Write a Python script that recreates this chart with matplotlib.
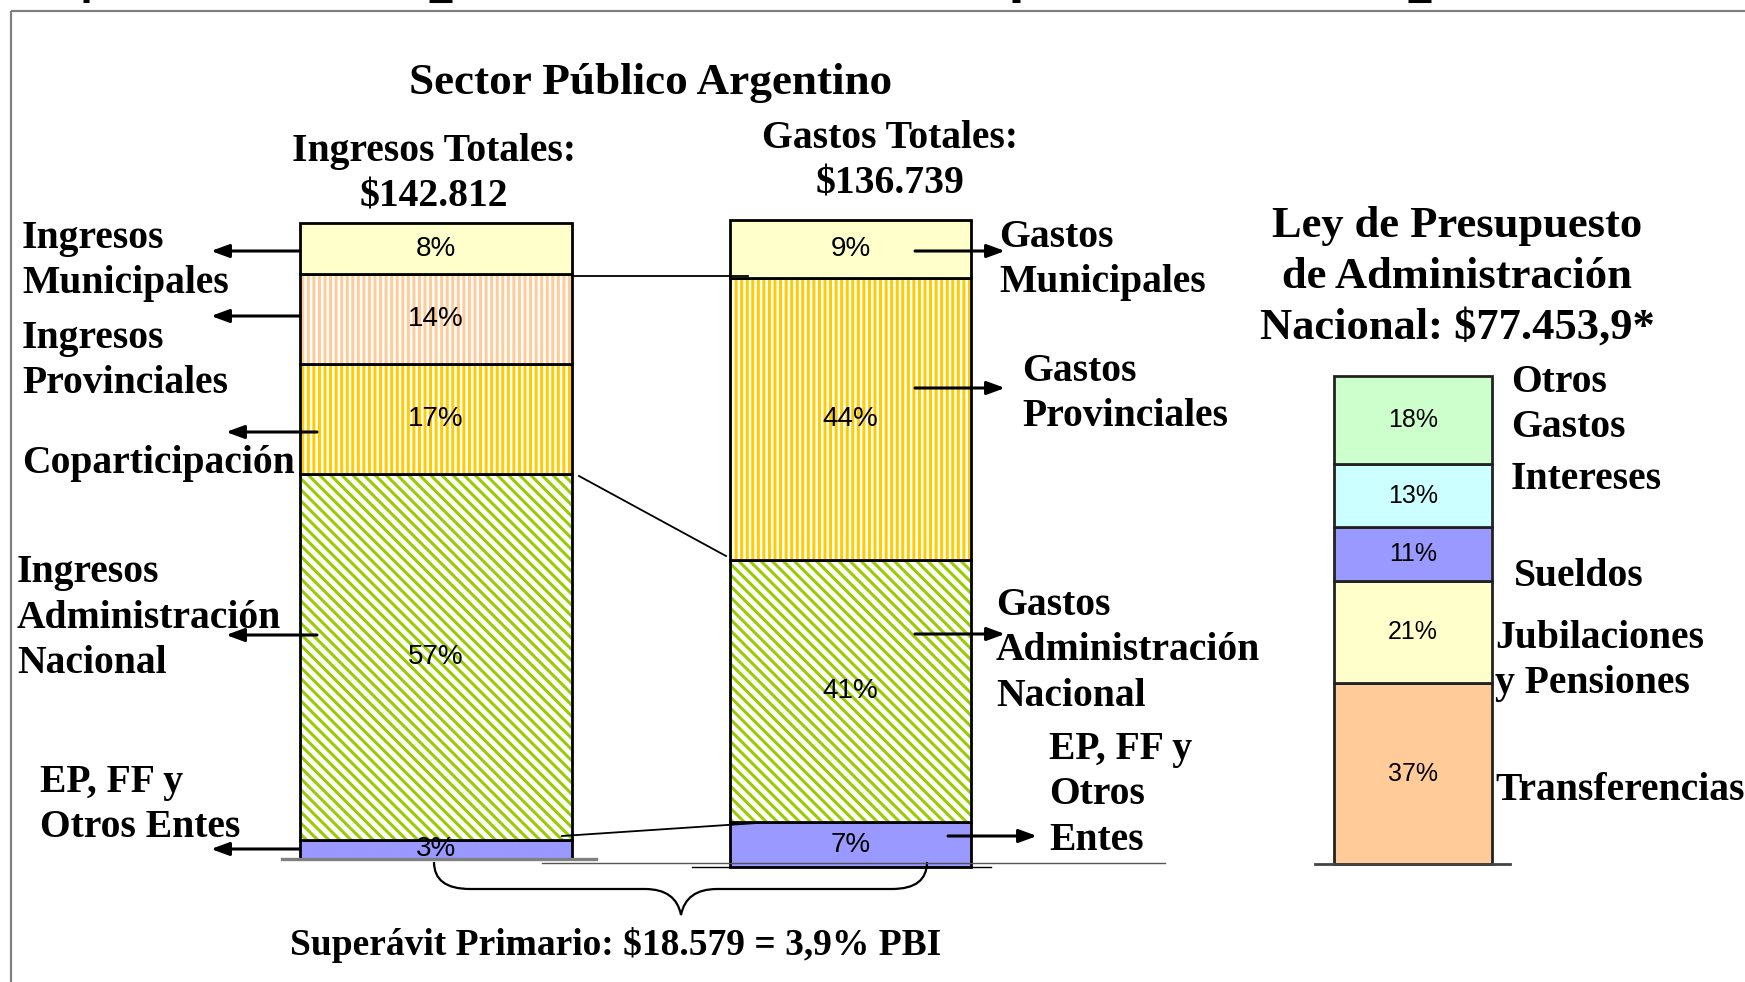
import matplotlib
matplotlib.use("Agg")
import matplotlib.pyplot as plt
from matplotlib.path import Path
from matplotlib.patches import PathPatch

W, H = 1745, 982

# ---- data (bottom -> top) ----
ing_cats = ["EP, FF y\nOtros Entes", "Ingresos\nAdministración\nNacional", "Coparticipación",
            "Ingresos\nProvinciales", "Ingresos\nMunicipales"]
ing_pct = [3, 57, 17, 14, 8]
gas_cats = ["EP, FF y\nOtros\nEntes", "Gastos\nAdministración\nNacional", "Gastos\nProvinciales",
            "Gastos\nMunicipales"]
gas_pct = [7, 41, 44, 9]
ley_cats = ["Transferencias", "Jubilaciones\ny Pensiones", "Sueldos", "Intereses", "Otros\nGastos"]
ley_pct = [37, 21, 11, 13, 18]
title = "Sector Público Argentino"
ing_head = "Ingresos Totales:\n$142.812"
gas_head = "Gastos Totales:\n$136.739"
ley_head = "Ley de Presupuesto\nde Administración\nNacional: $77.453,9*"
superavit = "Superávit Primario: $18.579 = 3,9% PBI"

# ---- styles ----
YEL, PEACH, GOLD, LIME, LAV = "#FFFFCC", "#FFCC99", "#FFCC00", "#99CC00", "#9999FF"
MINT, CYAN, GREY = "#CCFFCC", "#CCFFFF", "#808080"
ing_style = [(LAV, None, None), ("white", LIME, "\\\\\\"), ("white", GOLD, "|||"),
             ("white", PEACH, "|||"), (YEL, None, None)]
gas_style = [(LAV, None, None), ("white", LIME, "\\\\\\"), ("white", GOLD, "|||"), (YEL, None, None)]
ley_style = [(PEACH, None, None), (YEL, None, None), (LAV, None, None), (CYAN, None, None), (MINT, None, None)]

plt.rcParams.update({"font.family": "Liberation Serif", "font.weight": "bold",
                     "hatch.linewidth": 2.2})
SANS = ["Liberation Sans"]

fig = plt.figure(figsize=(W / 100, H / 100), dpi=100)


def px_axes(x0, y0, x1, y1):
    return fig.add_axes([x0 / W, 1 - y1 / H, (x1 - x0) / W, (y1 - y0) / H])


def stack(ax, vals, styles, fs, edge="black"):
    bottom = 0
    for v, (fc, hc, hatch) in zip(vals, styles):
        if hatch:
            ax.bar(0, v, 1, bottom=bottom, color=fc, edgecolor=hc, hatch=hatch, linewidth=0, clip_on=False)
        else:
            ax.bar(0, v, 1, bottom=bottom, color=fc, linewidth=0, clip_on=False)
        ax.bar(0, v, 1, bottom=bottom, fill=False, edgecolor=edge, linewidth=2, clip_on=False)
        ax.text(0, bottom + v / 2, f"{v}%", ha="center", va="center", fontsize=fs,
                family=SANS, fontweight="normal")
        bottom += v
    ax.set_xlim(-0.5, 0.5)
    ax.set_ylim(0, bottom)
    ax.axis("off")


stack(px_axes(300, 223, 572, 859), ing_pct, ing_style, 20)
stack(px_axes(730, 220, 971, 867), gas_pct, gas_style, 20)
stack(px_axes(1334, 376, 1492, 864), ley_pct, ley_style, 18, edge="#222222")

# ---- overlay in pixel coordinates ----
ov = fig.add_axes([0, 0, 1, 1], zorder=5)
ov.set_xlim(0, W); ov.set_ylim(H, 0); ov.axis("off")

# frame + clipped fragments of the text above
ov.plot([11, W], [11, 11], color=GREY, lw=1.6, solid_capstyle="butt")
ov.plot([11, 11], [11, H], color=GREY, lw=1.6, solid_capstyle="butt")
for xa, xb in [(83, 89), (429, 452), (1012, 1020), (1408, 1431)]:
    ov.plot([xa, xb], [1, 1], color="black", lw=2.2, solid_capstyle="butt")

# baselines
ov.plot([282, 596], [859, 859], color=GREY, lw=2.4)
ov.plot([542, 1165], [863, 863], color="#555555", lw=1.0)
ov.plot([692, 991], [867, 867], color="black", lw=1.0)
ov.plot([1315, 1510], [864, 864], color="#444444", lw=2)

# connectors between the two bars
for (xa, ya), (xb, yb) in [((572, 276), (748, 276)), ((579, 476), (726, 556)), ((562, 836), (757, 823))]:
    ov.plot([xa, xb], [ya, yb], color="black", lw=1.3)

# arrows
ARW = dict(arrowstyle="-|>,head_length=0.6,head_width=0.22", color="black", lw=2.2,
           mutation_scale=18, shrinkA=0, shrinkB=0)
for (xs, xt, y) in [(300, 211, 251), (300, 211, 316), (317, 226, 432), (317, 226, 635), (300, 211, 849),
                    (915, 1005, 251), (915, 1005, 388), (915, 1005, 634), (948, 1037, 836)]:
    ov.annotate("", xy=(xt, y), xytext=(xs, y), arrowprops=ARW)

# brace
verts = [(434, 862), (434, 889), (470, 889), (645, 889), (676, 889), (681, 915),
         (686, 889), (717, 889), (892, 889), (927, 889), (927, 862)]
codes = [Path.MOVETO, Path.CURVE3, Path.CURVE3, Path.LINETO, Path.CURVE3, Path.CURVE3,
         Path.CURVE3, Path.CURVE3, Path.LINETO, Path.CURVE3, Path.CURVE3]
ov.add_patch(PathPatch(Path(verts, codes), fill=False, lw=1.6, edgecolor="black"))

# headings
LS = 28.5
ov.text(651, 83, title, ha="center", va="center", fontsize=32.5)
ov.text(434, 174, ing_head, ha="center", va="center", fontsize=LS, linespacing=1.3)
ov.text(890, 161, gas_head, ha="center", va="center", fontsize=LS, linespacing=1.3)
ov.text(1457, 277, ley_head, ha="center", va="center", fontsize=32, linespacing=1.34)
ov.text(616, 945, superavit, ha="center", va="center", fontsize=27)

# category labels
ing_pos = [(40, 805), (17, 618), (22, 463), (22, 361), (22, 261)]
gas_pos = [(1049, 795), (996, 651), (1022, 394), (999, 260)]
ley_pos = [(1495, 790), (1495, 661), (1514, 577), (1511, 479), (1511, 405)]
for cats, pos in [(ing_cats, ing_pos), (gas_cats, gas_pos), (ley_cats, ley_pos)]:
    for c, (x, y) in zip(cats, pos):
        ov.text(x, y, c, ha="left", va="center", fontsize=LS, linespacing=1.3)

fig.savefig("out.png", dpi=100, facecolor="white")
